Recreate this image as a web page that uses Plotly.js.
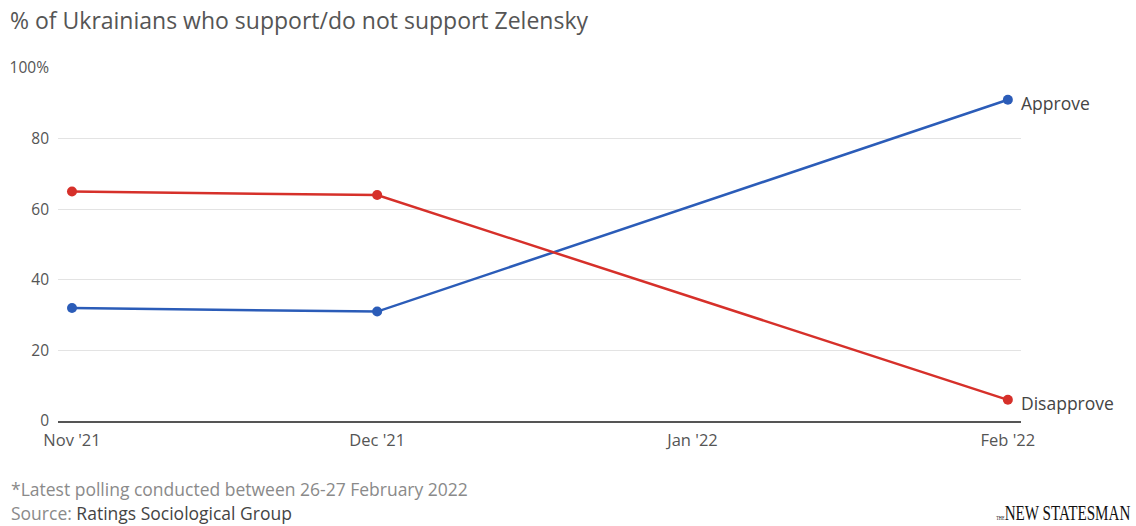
<!DOCTYPE html>
<html>
<head>
<meta charset="utf-8">
<script src="https://cdn.plot.ly/plotly-3.0.1.min.js"></script>
<style>
  html, body { margin: 0; padding: 0; background: #fff; }
  #chart { width: 1136px; height: 526px; }
</style>
</head>
<body>
<div id="chart"></div>
<script>
// Data
var dates = ['2021-11-01', '2021-12-01', '2022-02-01'];
var approve = [32, 31, 91];
var disapprove = [65, 64, 6];
var seriesNames = ['Approve', 'Disapprove'];
var xTickVals = ['2021-11-01', '2021-12-01', '2022-01-01', '2022-02-01'];
var xTickText = ["Nov '21", "Dec '21", "Jan '22", "Feb '22"];
var yTickVals = [0, 20, 40, 60, 80, 100];
var yTickText = ['0', '20', '40', '60', '80', '100%'];

var blue = '#2b5cb8';
var red = '#d6302a';
var FONT = '"Open Sans", Lato, sans-serif';

var traces = [
  {
    x: dates, y: approve, name: seriesNames[0], type: 'scatter', mode: 'lines+markers',
    line: { color: blue, width: 2.5 }, marker: { color: blue, size: 10 }, cliponaxis: false
  },
  {
    x: dates, y: disapprove, name: seriesNames[1], type: 'scatter', mode: 'lines+markers',
    line: { color: red, width: 2.5 }, marker: { color: red, size: 10 }, cliponaxis: false
  }
];

var last = dates.length - 1;
var annotations = [
  { x: dates[last], y: approve[last], text: seriesNames[0], xref: 'x', yref: 'y',
    xanchor: 'left', yanchor: 'middle', xshift: 11, yshift: -3, showarrow: false,
    font: { family: FONT, size: 17.5, color: '#444' } },
  { x: dates[last], y: disapprove[last], text: seriesNames[1], xref: 'x', yref: 'y',
    xanchor: 'left', yanchor: 'middle', xshift: 11, yshift: -3, showarrow: false,
    font: { family: FONT, size: 17.5, color: '#444' } },
  { x: 10, y: 502, xref: 'paper', yref: 'paper', showarrow: false, borderpad: 0,
    text: '*Latest polling conducted between 26-27 February 2022',
    xanchor: 'left', yanchor: 'bottom', font: { family: FONT, size: 17.5, color: '#8a8a8a' } },
  { x: 10, y: 526, xref: 'paper', yref: 'paper', showarrow: false, borderpad: 0,
    text: '<span style="color:#8a8a8a">Source:</span> Ratings Sociological Group',
    xanchor: 'left', yanchor: 'bottom', font: { family: FONT, size: 17.5, color: '#444' } },
  { x: 1131, y: 526, xref: 'paper', yref: 'paper', showarrow: false, borderpad: 0,
    text: '<span style="font-size:6px">THE</span>NEW STATESMAN',
    xanchor: 'right', yanchor: 'bottom', font: { family: '"Liberation Serif", serif', size: 21, color: '#111' } }
];

// convert pixel-based paper coords for footer annotations
var W = 1136, H = 526, mL = 58, mR = 115, mT = 68, mB = 105;
annotations.forEach(function (a) {
  if (a.xref === 'paper') {
    a.x = (a.x - mL) / (W - mL - mR);
    a.y = (H - mB - a.y) / (H - mT - mB);
  }
});

var layout = {
  width: W, height: H,
  margin: { l: mL, r: mR, t: mT, b: mB, pad: 0 },
  paper_bgcolor: '#fff', plot_bgcolor: '#fff',
  showlegend: false,
  title: { text: '% of Ukrainians who support/do not support Zelensky',
    x: 10 / W, xanchor: 'left', xref: 'container', y: 1 - 21 / H, yanchor: 'middle', yref: 'container',
    font: { family: FONT, size: 23, color: '#555' } },
  xaxis: {
    type: 'date', range: ['2021-10-30 15:00', '2022-02-02 07:00'],
    tickmode: 'array', tickvals: xTickVals, ticktext: xTickText,
    showgrid: false, zeroline: false, showline: true, linecolor: '#555', linewidth: 1.5,
    ticks: '', ticklabelstandoff: 4,
    tickfont: { family: FONT, size: 16.5, color: '#555' }, fixedrange: true
  },
  yaxis: {
    range: [0, 100], tickmode: 'array', tickvals: yTickVals, ticktext: yTickText,
    showgrid: true, gridcolor: '#e3e3e3', gridwidth: 1, zeroline: false, showline: false,
    ticks: '', ticklabelstandoff: 8,
    tickfont: { family: FONT, size: 15.5, color: '#555' }, fixedrange: true
  },
  annotations: annotations
};

Plotly.newPlot('chart', traces, layout, { displayModeBar: false, staticPlot: true }).then(function (gd) {
  // condense the masthead text horizontally like the original logo, keeping its right edge
  var texts = gd.querySelectorAll('.annotation-text');
  texts.forEach(function (t) {
    if (t.textContent.indexOf('STATESMAN') >= 0) {
      var bb = t.getBBox();
      var right = bb.x + bb.width;
      t.setAttribute('transform', 'translate(' + right + ',0) scale(0.72,1) translate(' + (-right) + ',0)');
    }
  });
});
</script>
</body>
</html>
